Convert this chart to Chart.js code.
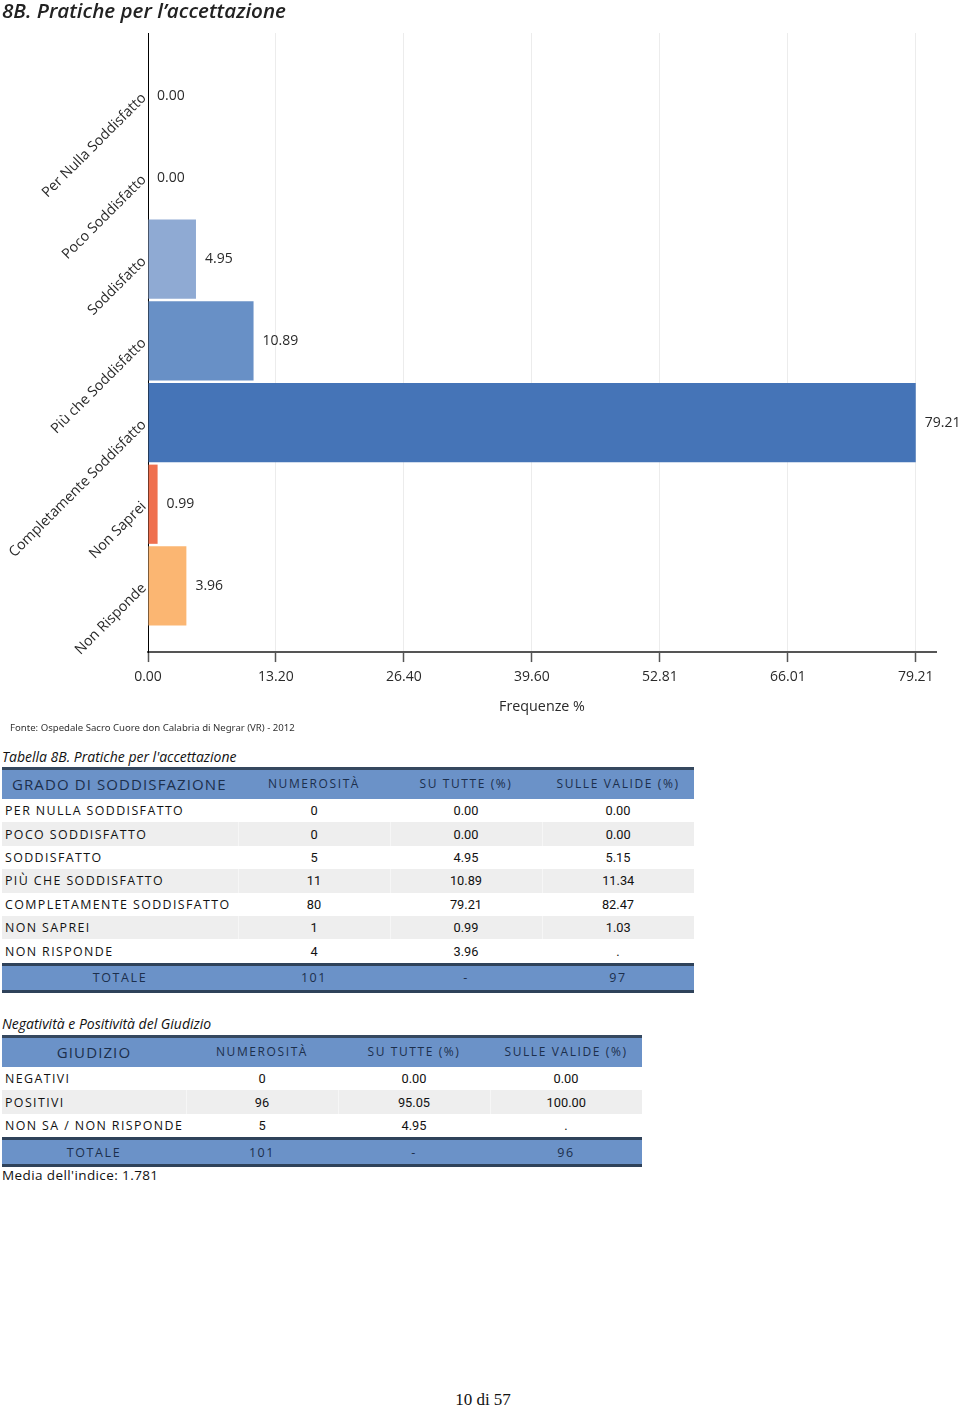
<!DOCTYPE html>
<html><head><meta charset="utf-8">
<script src="https://cdn.jsdelivr.net/npm/chart.js@4.4.1/dist/chart.umd.min.js"></script>
<style>
html,body{margin:0;padding:0;background:#fff;}
body{width:960px;height:1409px;overflow:hidden;position:relative;font-family:'Open Sans',sans-serif;color:#111;}
#title{position:absolute;left:2px;top:-4px;font:italic 600 20.6px 'Open Sans',sans-serif;color:#222;z-index:2;white-space:nowrap;}
#wrap{position:absolute;left:0;top:0;width:960px;height:725px;}
#fonte{position:absolute;left:10px;top:721px;font:9.6px 'Noto Sans',sans-serif;color:#333;white-space:nowrap;}
.ttl{position:absolute;left:2px;font:italic 14px 'Open Sans',sans-serif;color:#111;white-space:nowrap;}
table{position:absolute;left:2px;border-collapse:collapse;table-layout:fixed;}
th{background:#6b92c8;color:#1c2f4c;font-weight:normal;letter-spacing:1.6px;font-size:12px;font-family:'Open Sans',sans-serif;border-top:3px solid #35485f;height:27px;padding:0 0 2px 0;text-align:center;}
th.big{font-size:15px;letter-spacing:1.1px;}
th.left{text-align:left;padding-left:10px;}
td{padding:0;height:23.4px;font-size:12.8px;text-align:center;font-family:'Roboto',sans-serif;color:#111;}
td.lab{text-align:left;padding-left:3px;letter-spacing:1.4px;font-family:'Open Sans',sans-serif;font-size:12.4px;}
tr.alt td{background:#eeeeee;}
tr.alt td+td{border-left:1px solid #f6f6f6;}
tr.tot td{background:#6b92c8;color:#1c2f4c;border-top:3px solid #2f425a;border-bottom:3px solid #2f425a;height:24px;letter-spacing:1.6px;font-family:'Open Sans',sans-serif;font-size:12.5px;}
#media{position:absolute;left:2px;top:1166px;font:13.5px 'Open Sans',sans-serif;color:#111;letter-spacing:0.4px;white-space:nowrap;}
#page{position:absolute;left:0;width:966px;text-align:center;top:1390px;font:17px 'Liberation Serif',serif;color:#111;}
</style></head>
<body>
<div id="title">8B. Pratiche per l’accettazione</div>
<div id="wrap"><canvas id="c" width="960" height="725"></canvas></div>
<div id="fonte">Fonte: Ospedale Sacro Cuore don Calabria di Negrar (VR) - 2012</div>
<div class="ttl" style="top:747px">Tabella 8B. Pratiche per l'accettazione</div>
<table id="t1" style="top:767px;width:692px"></table>
<div class="ttl" style="top:1014px">Negatività e Positività del Giudizio</div>
<table id="t2" style="top:1035px;width:640px"></table>
<div id="media">Media dell'indice: 1.781</div>
<div id="page">10 di 57</div>
<script>
// ---- chart data ----
const categories = ['Per Nulla Soddisfatto','Poco Soddisfatto','Soddisfatto','Più che Soddisfatto','Completamente Soddisfatto','Non Saprei','Non Risponde'];
const percentages = [0.00, 0.00, 4.95, 10.89, 79.21, 0.99, 3.96];
const barColors = ['#8faad3','#8faad3','#8faad3','#6890c6','#4574b7','#ef704f','#fbb672'];
const xTickValues = [0.00, 13.20, 26.40, 39.60, 52.81, 66.01, 79.21];
const xTitle = 'Frequenze %';

// ---- table data ----
const t1Headers = ['GRADO DI SODDISFAZIONE','NUMEROSITÀ','SU TUTTE (%)','SULLE VALIDE (%)'];
const t1Labels = ['PER NULLA SODDISFATTO','POCO SODDISFATTO','SODDISFATTO','PIÙ CHE SODDISFATTO','COMPLETAMENTE SODDISFATTO','NON SAPREI','NON RISPONDE'];
const t1Counts = ['0','0','5','11','80','1','4'];
const t1All = ['0.00','0.00','4.95','10.89','79.21','0.99','3.96'];
const t1Valid = ['0.00','0.00','5.15','11.34','82.47','1.03','.'];
const t1Total = ['TOTALE','101','-','97'];

const t2Headers = ['GIUDIZIO','NUMEROSITÀ','SU TUTTE (%)','SULLE VALIDE (%)'];
const t2Labels = ['NEGATIVI','POSITIVI','NON SA / NON RISPONDE'];
const t2Counts = ['0','96','5'];
const t2All = ['0.00','95.05','4.95'];
const t2Valid = ['0.00','100.00','.'];
const t2Total = ['TOTALE','101','-','96'];

function buildTable(id, headers, labels, counts, all, valid, total, widths, firstLeft){
  const t = document.getElementById(id);
  let h = '<colgroup>' + widths.map(w=>'<col style="width:'+w+'px">').join('') + '</colgroup>';
  h += '<tr>' + headers.map((x,i)=>'<th class="'+(i===0?('big'+(firstLeft?' left':'')):'')+'">'+x+'</th>').join('') + '</tr>';
  labels.forEach((l,i)=>{
    h += '<tr class="'+(i%2===1?'alt':'')+'"><td class="lab">'+l+'</td><td>'+counts[i]+'</td><td>'+all[i]+'</td><td>'+valid[i]+'</td></tr>';
  });
  h += '<tr class="tot">' + total.map(x=>'<td>'+x+'</td>').join('') + '</tr>';
  t.innerHTML = h;
}
buildTable('t1', t1Headers, t1Labels, t1Counts, t1All, t1Valid, t1Total, [236,152,152,152], true);
buildTable('t2', t2Headers, t2Labels, t2Counts, t2All, t2Valid, t2Total, [184,152,152,152], false);

// ---- chart ----
const valueLabels = {
  id:'valueLabels',
  afterDatasetsDraw(chart){
    const meta = chart.getDatasetMeta(0);
    const ctx = chart.ctx;
    ctx.save();
    ctx.font = '14px "Open Sans", sans-serif';
    ctx.fillStyle = '#2a2a2a';
    ctx.textBaseline = 'middle';
    ctx.textAlign = 'left';
    meta.data.forEach((bar,i)=>{
      ctx.fillText(percentages[i].toFixed(2), bar.x + 9, bar.y);
    });
    ctx.restore();
  }
};

new Chart(document.getElementById('c'), {
  type:'bar',
  data:{
    datasets:[{
      data: categories.map((c,i)=>({x: percentages[i], y: i})),
      backgroundColor: barColors,
      borderWidth: 0,
      categoryPercentage: 1,
      barPercentage: 0.97
    }]
  },
  options:{
    indexAxis:'y',
    responsive:false,
    animation:false,
    devicePixelRatio:1,
    layout:{padding:{top:33,right:24,bottom:5,left:0}},
    plugins:{legend:{display:false},tooltip:{enabled:false},title:{display:false}},
    scales:{
      x:{
        type:'linear', position:'bottom', min:0, max:81.3,
        afterBuildTicks: s => { s.ticks = xTickValues.map(v=>({value:v})); },
        ticks:{ callback: v => Number(v).toFixed(2), color:'#2a2a2a', font:{family:'Open Sans', size:14}, padding:7, maxRotation:0, minRotation:0, autoSkip:false },
        grid:{ color:'#ececec', lineWidth:1, tickColor:'#555', tickLength:10, tickWidth:1.5 },
        border:{ color:'#555', width:2 },
        title:{ display:true, text:xTitle, color:'#2a2a2a', font:{family:'Open Sans', size:14.3}, padding:{top:6,bottom:4} }
      },
      y:{
        type:'linear', position:'left', reverse:true, min:-0.77, max:6.81, offset:false,
        afterBuildTicks: s => { s.ticks = categories.map((c,i)=>({value:i})); },
        afterFit: s => { s.width = 148; },
        ticks:{ callback: v => categories[v], minRotation:45, maxRotation:45, padding:4, color:'#2a2a2a', font:{family:'Open Sans', size:14.3}, autoSkip:false },
        grid:{ display:false, drawTicks:false, offset:false },
        border:{ color:'#000', width:1 }
      }
    }
  },
  plugins:[valueLabels]
});
</script>
</body></html>
